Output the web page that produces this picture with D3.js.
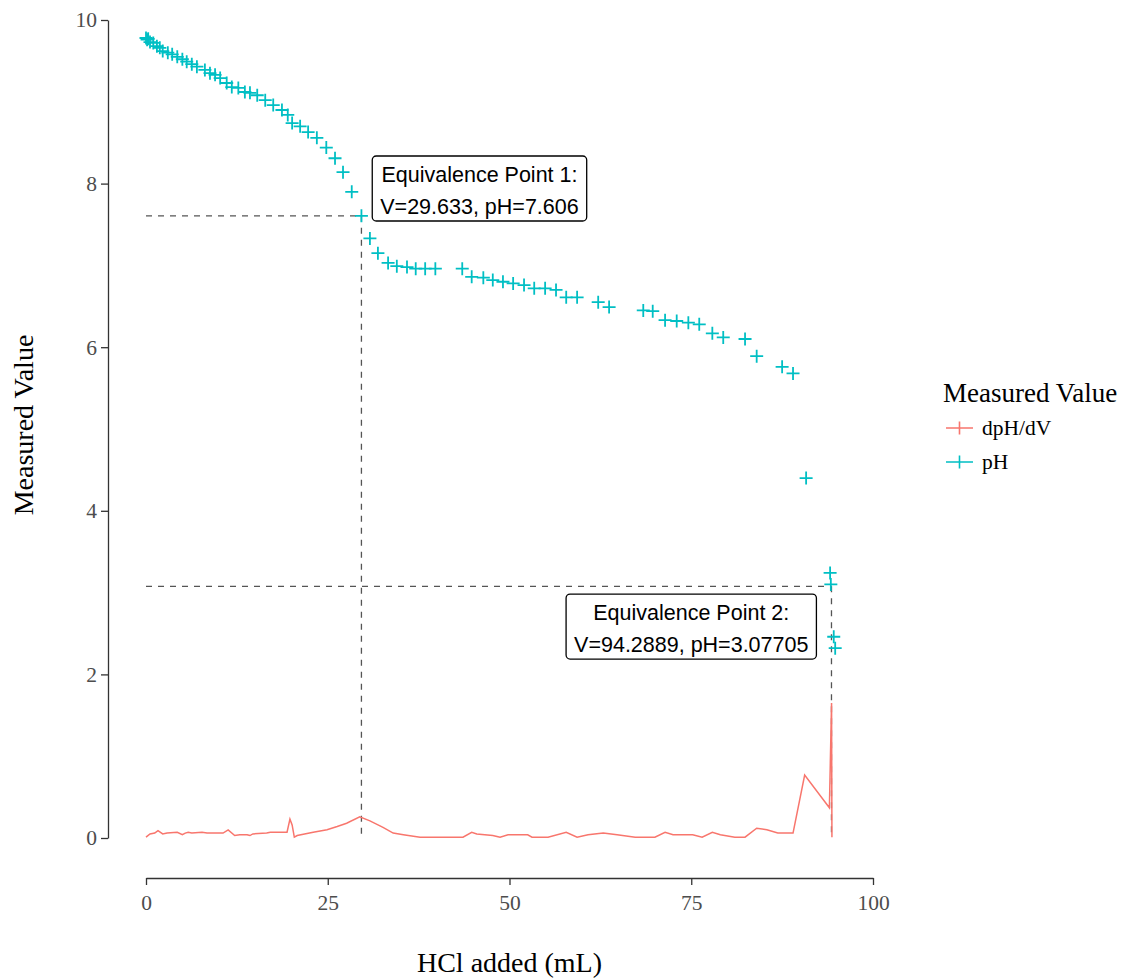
<!DOCTYPE html>
<html>
<head>
<meta charset="utf-8">
<script src="https://cdn.jsdelivr.net/npm/d3@7"></script>
<style>
  body { margin: 0; background: #fff; }
  svg { display: block; }
</style>
</head>
<body>
<svg id="chart" width="1127" height="979"></svg>
<script>
// ---- Data ----
const phVolume = [0, 0.15, 0.3, 0.55, 1.0, 1.5, 1.9, 2.3, 3.0, 3.6, 4.3, 5.0, 5.6, 6.3, 7.0, 8.1, 8.8, 9.5, 10.2, 11.1, 11.8, 12.7, 13.6, 14.3, 15.3, 16.4, 17.5, 18.7, 19.5, 20.1, 21.2, 22.3, 23.5, 24.8, 26.0, 27.1, 28.3, 29.633, 30.8, 31.9, 33.3, 34.5, 35.9, 37.1, 38.4, 39.8, 43.5, 44.8, 46.4, 47.7, 49.1, 50.5, 52.0, 53.4, 54.9, 56.4, 57.8, 59.3, 62.2, 63.7, 68.4, 69.7, 71.4, 73.0, 74.6, 76.1, 77.9, 79.4, 82.4, 84.0, 87.5, 89.0, 90.8, 94.1, 94.2, 94.6, 94.8];
const phValues = [9.78, 9.76, 9.77, 9.73, 9.72, 9.68, 9.66, 9.62, 9.60, 9.58, 9.55, 9.52, 9.49, 9.46, 9.43, 9.39, 9.35, 9.33, 9.29, 9.23, 9.18, 9.17, 9.12, 9.11, 9.08, 9.02, 8.96, 8.90, 8.84, 8.74, 8.70, 8.63, 8.56, 8.44, 8.31, 8.14, 7.90, 7.606, 7.33, 7.15, 7.03, 6.99, 6.98, 6.96, 6.96, 6.96, 6.96, 6.86, 6.85, 6.82, 6.80, 6.78, 6.76, 6.72, 6.72, 6.70, 6.61, 6.61, 6.55, 6.49, 6.45, 6.44, 6.33, 6.32, 6.30, 6.28, 6.17, 6.12, 6.10, 5.89, 5.76, 5.68, 4.40, 3.24, 3.10, 2.46, 2.32];

const dVolume = [0, 0.55, 1.2, 1.65, 2.3, 2.9, 4.3, 5.0, 5.4, 5.8, 6.3, 7.7, 8.4, 10.6, 11.3, 12.2, 12.9, 13.9, 14.3, 14.7, 16.6, 17.1, 18.0, 19.4, 19.8, 20.1, 20.4, 20.8, 23.0, 24.9, 26.3, 27.6, 29.4, 30.8, 32.6, 34.0, 35.4, 37.7, 43.6, 44.8, 45.5, 47.7, 48.7, 49.8, 52.5, 53.1, 55.3, 57.8, 59.3, 60.8, 62.9, 64.8, 67.3, 70.0, 71.4, 72.5, 75.2, 76.5, 77.9, 79.0, 81.0, 82.4, 84.0, 85.4, 86.9, 89.0, 90.6, 94.0, 94.3, 94.35];
const dValues = [0.01, 0.05, 0.06, 0.09, 0.05, 0.06, 0.07, 0.04, 0.06, 0.07, 0.06, 0.07, 0.06, 0.06, 0.10, 0.03, 0.04, 0.04, 0.03, 0.05, 0.06, 0.07, 0.07, 0.07, 0.23, 0.16, 0.01, 0.03, 0.07, 0.10, 0.14, 0.18, 0.26, 0.21, 0.13, 0.06, 0.04, 0.01, 0.01, 0.07, 0.05, 0.03, 0.01, 0.04, 0.04, 0.01, 0.01, 0.07, 0.01, 0.04, 0.06, 0.04, 0.01, 0.01, 0.07, 0.04, 0.04, 0.01, 0.07, 0.04, 0.01, 0.01, 0.12, 0.10, 0.06, 0.06, 0.77, 0.37, 1.65, 0.01];

const eqVolume = [29.633, 94.2889];
const eqPH = [7.606, 3.07705];
const eqLabel1 = ["Equivalence Point 1:", "Equivalence Point 2:"];
const eqLabel2 = ["V=29.633, pH=7.606", "V=94.2889, pH=3.07705"];
const eqLabelX = [45.87, 75.0];
const eqLabelY = [7.94, 2.585];

const xTicks = [0, 25, 50, 75, 100];
const yTicks = [0, 2, 4, 6, 8, 10];
const seriesNames = ["dpH/dV", "pH"];
const seriesColors = ["#F8766D", "#00BFC4"];

// ---- Setup ----
const svg = d3.select("#chart");
const x = d3.scaleLinear().domain([0, 100]).range([146, 873]);
const y = d3.scaleLinear().domain([0, 10]).range([838, 20]);
const serif = "'Liberation Serif', 'Times New Roman', serif";
const sans = "'Liberation Sans', Arial, sans-serif";

// Axes (range-frame style)
const xAxis = svg.append("g").attr("transform", "translate(0,878)")
  .call(d3.axisBottom(x).tickValues(xTicks).tickSize(7).tickPadding(6).tickSizeOuter(0));
const yAxis = svg.append("g").attr("transform", "translate(108,0)")
  .call(d3.axisLeft(y).tickValues(yTicks).tickSize(7).tickPadding(4).tickSizeOuter(0));
[xAxis, yAxis].forEach(a => {
  a.select(".domain").attr("stroke", "#333").attr("stroke-width", 1.3);
  a.selectAll(".tick line").attr("stroke", "#333").attr("stroke-width", 1.3);
  a.selectAll(".tick text").attr("fill", "#4D4D4D").style("font-family", serif).style("font-size", "21.5px");
});
xAxis.selectAll(".tick text").attr("dy", "0.9em");

svg.append("text").attr("x", 509.5).attr("y", 972).attr("text-anchor", "middle")
  .style("font-family", serif).style("font-size", "28px").attr("fill", "#000").text("HCl added (mL)");
svg.append("text").attr("transform", "translate(33,425) rotate(-90)").attr("text-anchor", "middle")
  .style("font-family", serif).style("font-size", "28px").attr("fill", "#000").text("Measured Value");

// Dashed reference lines
const dash = svg.append("g").attr("stroke", "#555").attr("stroke-width", 1.3)
  .attr("stroke-dasharray", "6,6").attr("fill", "none");
eqVolume.forEach((v, i) => {
  dash.append("line").attr("x1", x(0)).attr("x2", x(v)).attr("y1", y(eqPH[i])).attr("y2", y(eqPH[i]));
  dash.append("line").attr("x1", x(v)).attr("x2", x(v)).attr("y1", y(eqPH[i])).attr("y2", y(0));
});

// dpH/dV line
const dData = dVolume.map((v, i) => [v, dValues[i]]);
svg.append("path").datum(dData)
  .attr("d", d3.line().x(d => x(d[0])).y(d => y(d[1])))
  .attr("fill", "none").attr("stroke", seriesColors[0]).attr("stroke-width", 1.5);

// pH crosses
const cs = 6.5;
const phData = phVolume.map((v, i) => [v, phValues[i]]);
svg.append("g").selectAll("path").data(phData).join("path")
  .attr("d", d => `M${x(d[0]) - cs},${y(d[1])}H${x(d[0]) + cs}M${x(d[0])},${y(d[1]) - cs}V${y(d[1]) + cs}`)
  .attr("stroke", seriesColors[1]).attr("stroke-width", 1.8).attr("fill", "none");

// Labels
eqVolume.forEach((v, i) => {
  const g = svg.append("g");
  const cx = x(eqLabelX[i]), cy = y(eqLabelY[i]);
  const t1 = g.append("text").attr("x", cx).attr("y", cy - 6.5).attr("text-anchor", "middle")
    .style("font-family", sans).style("font-size", "21.5px").attr("fill", "#000").text(eqLabel1[i]);
  const t2 = g.append("text").attr("x", cx).attr("y", cy + 25.5).attr("text-anchor", "middle")
    .style("font-family", sans).style("font-size", "21.5px").attr("fill", "#000").text(eqLabel2[i]);
  const w = Math.max(t1.node().getComputedTextLength(), t2.node().getComputedTextLength()) + 16;
  g.insert("rect", "text").attr("x", cx - w / 2).attr("y", cy - 32.5).attr("width", w).attr("height", 65)
    .attr("rx", 4).attr("ry", 4).attr("fill", "#fff").attr("stroke", "#000").attr("stroke-width", 1.3);
});

// Legend
const lg = svg.append("g");
lg.append("text").attr("x", 943).attr("y", 402).style("font-family", serif).style("font-size", "27px")
  .attr("fill", "#000").text("Measured Value");
seriesNames.forEach((name, i) => {
  const ky = 428 + i * 34;
  lg.append("path").attr("d", `M946,${ky}H973M959.5,${ky - cs}V${ky + cs}`)
    .attr("stroke", seriesColors[i]).attr("stroke-width", 1.6).attr("fill", "none");
  lg.append("text").attr("x", 982).attr("y", ky + 7).style("font-family", serif).style("font-size", "21.5px")
    .attr("fill", "#000").text(name);
});
</script>
</body>
</html>
